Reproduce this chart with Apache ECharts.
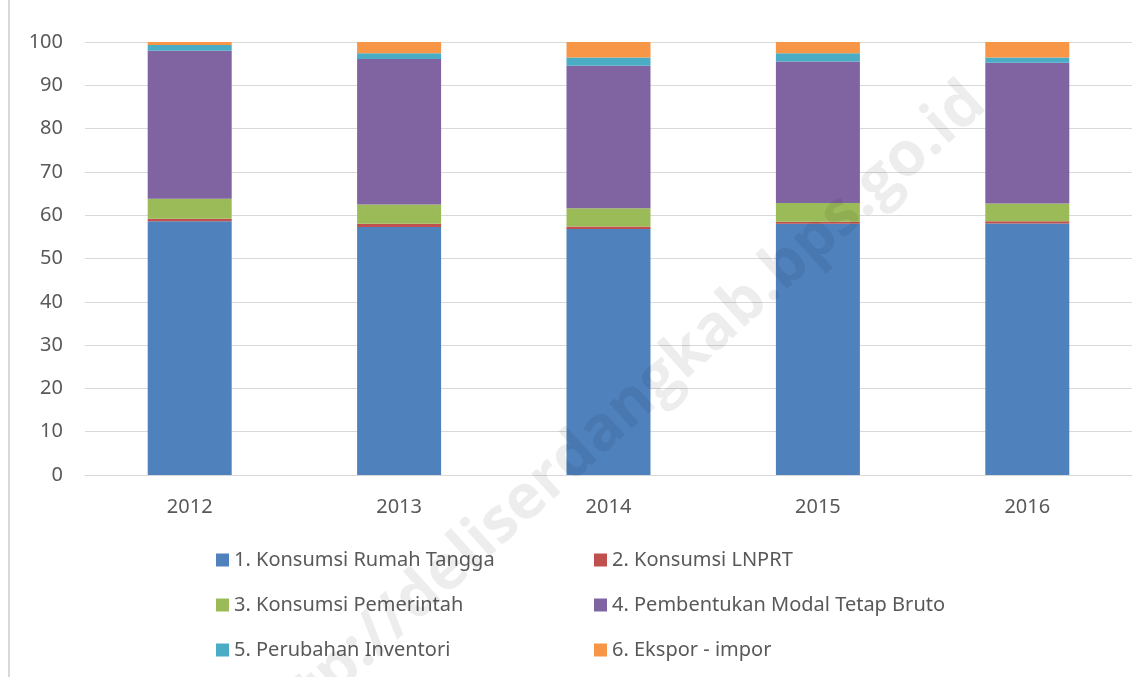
<!DOCTYPE html>
<html>
<head>
	<meta charset="utf-8">
	<title></title>
	<script src="https://cdn.jsdelivr.net/npm/echarts@6/dist/echarts.min.js"></script>
	<style>
		html, body { margin: 0; padding: 0; background: #fff; }
		#frame { position: absolute; left: 8px; top: 0; width: 2px; height: 677px; background: #d9d9d9; }
		#main { position: absolute; left: 0; top: 0; width: 1148px; height: 677px; }
	</style>
</head>
<body>
	<div id="frame"></div>
	<div id="main"></div>
	<script type="text/javascript">
		// data
		var years = ['2012', '2013', '2014', '2015', '2016'];
		var names = ['1. Konsumsi Rumah Tangga', '2. Konsumsi LNPRT', '3. Konsumsi Pemerintah',
			'4. Pembentukan Modal Tetap Bruto', '5. Perubahan Inventori', '6. Ekspor - impor'];
		var rumahTangga = [58.6, 57.3, 56.8, 58.0, 58.1];
		var lnprt = [0.6, 0.7, 0.6, 0.5, 0.5];
		var pemerintah = [4.6, 4.5, 4.2, 4.3, 4.1];
		var modalTetap = [34.2, 33.6, 32.9, 32.7, 32.5];
		var inventori = [1.3, 1.3, 1.9, 1.9, 1.2];
		var eksporImpor = [0.7, 2.6, 3.6, 2.6, 3.6];
		var colors = ['#4f81bd', '#c0504d', '#9bbb59', '#8064a2', '#4bacc6', '#f79646'];

		var allData = [rumahTangga, lnprt, pemerintah, modalTetap, inventori, eksporImpor];
		var series = [];
		for (var i = 0; i < names.length; i++) {
			series.push({
				name: names[i],
				type: 'bar',
				stack: 'total',
				barWidth: 84,
				data: allData[i],
				itemStyle: { color: colors[i] }
			});
		}

		var txt = '#595959';
		var font = 'Noto Sans';

		var myChart = echarts.init(document.getElementById('main'));
		var option = {
			animation: false,
			color: colors,
			textStyle: { fontFamily: font },
			grid: { left: 85, right: 16, top: 42, bottom: 202 },
			legend: [
				{
					orient: 'vertical', left: 211, top: 545, itemGap: 25,
					itemWidth: 13, itemHeight: 13, icon: 'rect',
					textStyle: { color: txt, fontSize: 20, fontFamily: font },
					data: [names[0], names[2], names[4]]
				},
				{
					orient: 'vertical', left: 589, top: 545, itemGap: 25,
					itemWidth: 13, itemHeight: 13, icon: 'rect',
					textStyle: { color: txt, fontSize: 20, fontFamily: font },
					data: [names[1], names[3], names[5]]
				}
			],
			xAxis: {
				type: 'category',
				data: years,
				axisLine: { lineStyle: { color: '#d9d9d9', width: 1 } },
				axisTick: { show: false },
				axisLabel: { color: txt, fontSize: 20, margin: 22 }
			},
			yAxis: {
				type: 'value',
				min: 0, max: 100, interval: 10,
				axisLine: { show: false },
				axisTick: { show: false },
				splitLine: { lineStyle: { color: '#d9d9d9', width: 1 } },
				axisLabel: { color: txt, fontSize: 20, margin: 22 }
			},
			graphic: [{
				type: 'text',
				x: 615, y: 420,
				rotation: Math.PI * 42 / 180,
				style: {
					text: 'http://deliserdangkab.bps.go.id',
					fontSize: 62, fontWeight: 'bold', fontFamily: 'Open Sans',
					fill: 'rgba(0,0,0,0.07)', align: 'center', verticalAlign: 'middle'
				},
				z: 100
			}],
			series: series
		};
		myChart.setOption(option);
	</script>
</body>
</html>
